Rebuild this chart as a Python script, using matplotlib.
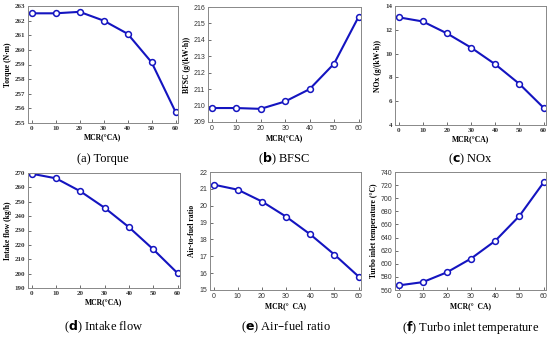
import matplotlib.pyplot as plt

mcr = [0, 10, 20, 30, 40, 50, 60]

torque = [262.5, 262.5, 262.6, 262.0, 261.1, 259.15, 255.75]
bfsc = [209.85, 209.85, 209.8, 210.25, 211.0, 212.55, 215.4]
nox = [13.05, 12.7, 11.7, 10.5, 9.1, 7.45, 5.45]
intake = [269.5, 266.3, 257.3, 245.8, 232.3, 216.9, 200.3]
afr = [21.25, 20.95, 20.25, 19.35, 18.3, 17.1, 15.8]
turbo = [567, 572, 587, 608, 635, 673, 724]

ylabels = ["Torque (N·m)", "BFSC (g/(kW·h))", "NOx (g/(kW·h))",
           "Intake flow (kg/h)", "Air-to-fuel ratio", "Turbo inlet temperature (°C)"]
xlabels = ["MCR(°CA)", "MCR(°CA)", "MCR(°CA)", "MCR(°CA)", "MCR(°  CA)", "MCR(°  CA)"]
letters = ["a", "b", "c", "d", "e", "f"]
captions = [" Torque", " BFSC", " NOx", " Intake flow", " Air\u2013fuel ratio",
            " Turbo inlet temperature"]
ylims = [(255, 263), (209, 216), (4, 14), (190, 270), (15, 22), (560, 740)]
ysteps = [1, 1, 2, 10, 1, 20]
serif_ticks = [True, False, True, True, False, False]

# axes boxes in pixels: left, top, right, bottom
boxes = [(28, 6, 178, 123), (208, 7, 361, 122), (395, 6, 546, 125),
         (28, 173, 180, 288), (210, 172, 361, 290), (395, 172, 546, 290)]
W, H = 550, 337
blue = "#1414c0"

fig = plt.figure(figsize=(5.5, 3.37), dpi=100)
series = [torque, bfsc, nox, intake, afr, turbo]
for i, vals in enumerate(series):
    l, t, r, b = boxes[i]
    ax = fig.add_axes([l / W, 1 - b / H, (r - l) / W, (b - t) / H])
    ax.plot(mcr, vals, color=blue, lw=1.5, marker="o", ms=4.2,
            mfc="white", mec=blue, mew=1.1)
    ax.set_xlim(-1.5, 61)
    ax.set_ylim(*ylims[i])
    ax.set_xticks(mcr)
    lo, hi = ylims[i]
    ax.set_yticks(range(lo, hi + 1, ysteps[i]))
    if serif_ticks[i]:
        fam, wt = "Liberation Serif", "bold"
    else:
        fam, wt = "Liberation Sans", "normal"
    for lab in ax.get_xticklabels() + ax.get_yticklabels():
        lab.set_fontfamily(fam)
        lab.set_fontsize(5)
        lab.set_fontweight(wt)
    ax.tick_params(direction="in", length=2, width=0.5, pad=2, colors="#333333")
    for s in ax.spines.values():
        s.set_color("#888888")
        s.set_linewidth(0.7)
    ax.set_ylabel(ylabels[i], family="Liberation Serif", weight="bold", size=5.5, labelpad=2)
    ax.set_xlabel(xlabels[i], family="Liberation Serif", weight="bold", size=5.5, labelpad=2)
    cx = (l + r) / 2 / W
    cy = 1 - (159 if i < 3 else 327) / H
    letter = letters[i] if i == 0 else r"$\bf{" + letters[i] + "}$"
    fig.text(cx, cy, "(" + letter + ")" + captions[i],
             ha="center", va="center", family="Liberation Serif", size=9)

fig.savefig("out.png", dpi=100)
